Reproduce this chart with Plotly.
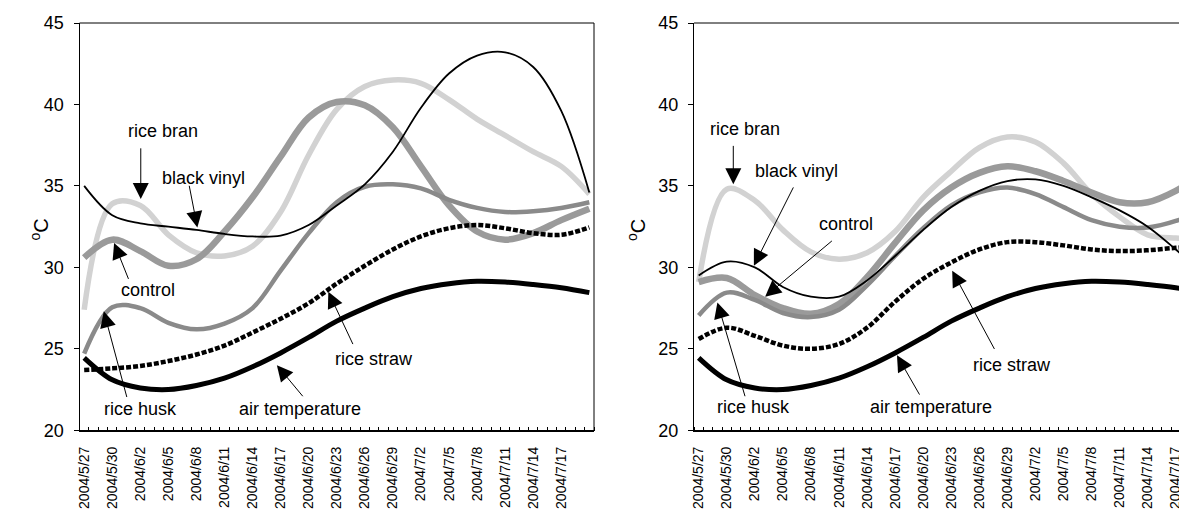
import plotly.graph_objects as go
import pandas as pd

# ---------------- data ----------------
dates = ["2004-05-27", "2004-05-30", "2004-06-02", "2004-06-05", "2004-06-08",
         "2004-06-11", "2004-06-14", "2004-06-17", "2004-06-20", "2004-06-23",
         "2004-06-26", "2004-06-29", "2004-07-02", "2004-07-05", "2004-07-08",
         "2004-07-11", "2004-07-14", "2004-07-17", "2004-07-20"]
tick_labels = ["2004/5/27", "2004/5/30", "2004/6/2", "2004/6/5", "2004/6/8",
               "2004/6/11", "2004/6/14", "2004/6/17", "2004/6/20", "2004/6/23",
               "2004/6/26", "2004/6/29", "2004/7/2", "2004/7/5", "2004/7/8",
               "2004/7/11", "2004/7/14", "2004/7/17"]

air_temperature = [24.45, 23.1, 22.6, 22.5, 22.75, 23.2, 23.9, 24.75, 25.7, 26.7,
                   27.5, 28.2, 28.7, 29.0, 29.15, 29.1, 28.95, 28.75, 28.45]

# left panel
black_vinyl_L = [35.0, 33.2, 32.7, 32.5, 32.3, 32.05, 31.9, 31.95, 32.6, 33.8,
                 35.1, 37.1, 39.8, 41.9, 43.0, 43.2, 42.3, 39.6, 34.6]
rice_bran_L = [27.4, 33.9, 33.8, 32.0, 30.9, 30.7, 31.3, 33.4, 36.9, 39.7,
               41.1, 41.5, 41.3, 40.3, 39.1, 38.1, 37.1, 36.2, 34.5]
control_L = [30.6, 31.7, 31.0, 30.1, 30.5, 32.2, 34.3, 36.8, 39.2, 40.15,
             39.95, 38.6, 36.2, 33.8, 32.2, 31.7, 32.1, 32.9, 33.6]
rice_husk_L = [24.7, 27.55, 27.5, 26.6, 26.2, 26.55, 27.5, 29.8, 32.1, 34.0,
               34.95, 35.1, 34.85, 34.15, 33.65, 33.4, 33.45, 33.65, 34.0]
rice_straw_L = [23.7, 23.8, 23.95, 24.25, 24.65, 25.2, 26.0, 26.85, 27.8, 29.0,
                30.1, 31.1, 31.9, 32.4, 32.6, 32.4, 32.1, 32.0, 32.45]

# right panel
black_vinyl_R = [29.5, 30.35, 30.0, 28.8, 28.2, 28.2, 29.2, 30.7, 32.3, 33.7,
                 34.7, 35.3, 35.4, 35.0, 34.3, 33.5, 32.5, 31.1, 29.5]
rice_bran_R = [29.1, 34.8, 34.1, 32.3, 30.95, 30.5, 30.9, 32.2, 34.3, 35.9,
               37.35, 38.0, 37.7, 36.4, 34.5, 33.1, 32.0, 31.8, 31.8]
control_R = [29.1, 29.35, 28.3, 27.5, 27.15, 27.75, 29.4, 31.5, 33.5, 34.9,
             35.8, 36.2, 35.9, 35.3, 34.6, 34.0, 34.0, 34.7, 35.8]
rice_husk_R = [27.05, 28.45, 28.0, 27.2, 26.95, 27.4, 28.9, 30.7, 32.4, 33.8,
               34.6, 34.9, 34.5, 33.7, 32.9, 32.5, 32.45, 32.85, 33.6]
rice_straw_R = [25.6, 26.3, 25.8, 25.2, 25.0, 25.3, 26.3, 27.9, 29.3, 30.3,
                31.1, 31.55, 31.55, 31.35, 31.1, 31.0, 31.05, 31.2, 31.3]

# ---------------- helpers ----------------
start = pd.Timestamp(dates[0])
x_days = [(pd.Timestamp(d) - start).days for d in dates]
tick_vals = [(pd.to_datetime(t, format="%Y/%m/%d") - start).days for t in tick_labels]

FONT = "Liberation Sans, Arial, sans-serif"

# page body has an 8px margin -> figure is drawn from (8, 8) of the window
OFF = 8
W, H = 1187 - OFF, 511 - OFF


def px_x(p):
    return (p - OFF) / W


def px_y(p):
    return 1 - (p - OFF) / H


styles = {
    "rice bran": dict(color="#d2d2d2", width=5.5),
    "control": dict(color="#9a9a9a", width=6.5),
    "rice husk": dict(color="#8a8a8a", width=4.5),
    "rice straw": dict(color="#000000", width=4.5, dash="5px,2px"),
    "air temperature": dict(color="#000000", width=5),
    "black vinyl": dict(color="#000000", width=1.8),
}

panels = [
    ("x", "y", {"rice bran": rice_bran_L, "control": control_L, "rice husk": rice_husk_L,
                "rice straw": rice_straw_L, "air temperature": air_temperature,
                "black vinyl": black_vinyl_L}),
    ("x2", "y2", {"rice bran": rice_bran_R, "control": control_R, "rice husk": rice_husk_R,
                  "rice straw": rice_straw_R, "air temperature": air_temperature,
                  "black vinyl": black_vinyl_R}),
]

fig = go.Figure()
for xa, ya, series in panels:
    for name, vals in series.items():
        fig.add_trace(go.Scatter(
            x=x_days, y=vals, mode="lines", name=name, xaxis=xa, yaxis=ya,
            line=dict(shape="spline", smoothing=1.0, **styles[name]),
            showlegend=False, hoverinfo="skip"))

# annotations: (text, text_x, text_y, arrow_tail_x, arrow_tail_y, tip_x, tip_y)
labels_L = [
    ("rice bran", 8.4, 38.4, 6.05, 37.4, 6.05, 34.2),
    ("black vinyl", 12.8, 35.5, 11.2, 35.1, 12.1, 32.45),
    ("control", 6.8, 28.6, 4.8, 29.2, 3.2, 31.5),
    ("rice husk", 6.0, 21.3, 4.6, 21.95, 2.1, 27.3),
    ("air temperature", 23.1, 21.3, 23.5, 22.0, 20.6, 24.0),
    ("rice straw", 31.0, 24.4, 28.8, 25.2, 26.1, 28.5),
]
labels_R = [
    ("rice bran", 4.9, 38.5, 3.7, 37.55, 3.7, 35.1),
    ("black vinyl", 10.5, 35.9, 10.2, 35.0, 5.9, 30.1),
    ("control", 15.7, 32.65, 14.4, 31.7, 7.1, 28.2),
    ("rice husk", 5.9, 21.4, 5.0, 22.0, 2.0, 27.85),
    ("air temperature", 24.8, 21.4, 23.7, 22.1, 21.2, 24.6),
    ("rice straw", 33.5, 24.0, 31.7, 24.9, 27.1, 29.8),
]

for xa, ya, labs in (("x", "y", labels_L), ("x2", "y2", labels_R)):
    for txt, tx, ty, ax_, ay_, px_, py_ in labs:
        fig.add_annotation(x=tx, y=ty, xref=xa, yref=ya, text=txt, showarrow=False,
                           font=dict(family=FONT, size=18, color="black"))
        fig.add_annotation(x=px_, y=py_, xref=xa, yref=ya, ax=ax_, ay=ay_,
                           axref=xa, ayref=ya, text="", showarrow=True,
                           arrowhead=2, arrowsize=3.2, arrowwidth=1, arrowcolor="black",
                           standoff=0, startstandoff=0)

# y-axis titles
for xp in (px_x(24), px_x(636)):
    fig.add_annotation(x=xp, y=px_y(230), xref="paper", yref="paper",
                       text="<sup>o</sup>C", showarrow=False, textangle=-90,
                       font=dict(family=FONT, size=20, color="black"))

ydom = [px_y(430.3), px_y(23)]
xcommon = dict(
    tickmode="array", tickvals=tick_vals, ticktext=tick_labels, tickangle=-90,
    ticks="", showgrid=False, zeroline=False, showline=True, linecolor="black",
    linewidth=1.5, tickfont=dict(family=FONT, size=14, color="black"),
    ticklabelstandoff=9, automargin=False,
    minor=dict(tickmode="linear", tick0=-0.5, dtick=1, ticks="inside", ticklen=4,
               tickcolor="black", tickwidth=1, showgrid=False),
)
ycommon = dict(
    range=[20, 45], tickmode="linear", tick0=20, dtick=5, ticks="outside", ticklen=5,
    tickcolor="black", showgrid=False, zeroline=False, showline=True, linecolor="black",
    linewidth=1, tickfont=dict(family=FONT, size=18, color="black"), automargin=False,
    ticklabelstandoff=6,
)

fig.update_layout(
    width=W, height=H, margin=dict(l=0, r=0, t=0, b=0),
    paper_bgcolor="white", plot_bgcolor="white",
    xaxis=dict(domain=[px_x(79.5), px_x(594)], range=[-0.5, 54.5], anchor="y", **xcommon),
    yaxis=dict(domain=ydom, anchor="x", **ycommon),
    xaxis2=dict(domain=[px_x(694), 1.0], range=[-0.5, 52.2], anchor="y2", **xcommon),
    yaxis2=dict(domain=ydom, anchor="x2", **ycommon),
)

# top border (both panels) and right border (left panel)
fig.add_shape(type="line", xref="x domain", yref="y domain", x0=0, x1=1, y0=1, y1=1,
              line=dict(color="black", width=1))
fig.add_shape(type="line", xref="x domain", yref="y domain", x0=1, x1=1, y0=0, y1=1,
              line=dict(color="black", width=1))
fig.add_shape(type="line", xref="x2 domain", yref="y2 domain", x0=0, x1=1, y0=1, y1=1,
              line=dict(color="black", width=1))

fig.write_html("out.html")
